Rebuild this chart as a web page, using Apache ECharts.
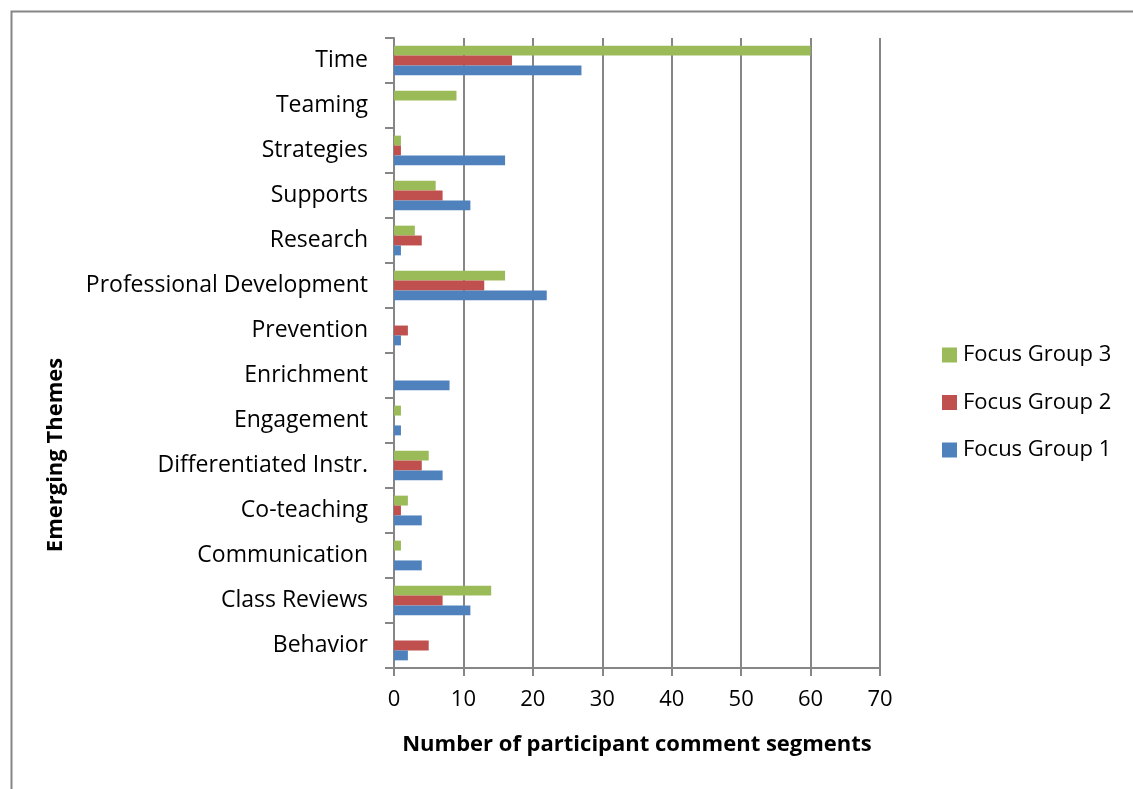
<!DOCTYPE html>
<html>
<head>
<meta charset="utf-8">
<script src="https://cdn.jsdelivr.net/npm/echarts@6/dist/echarts.min.js"></script>
<style>html,body{margin:0;padding:0;background:#fff;}#c{width:1133px;height:789px;}</style>
</head>
<body>
<div id="c"></div>
<script>
const categories = ["Behavior","Class Reviews","Communication","Co-teaching","Differentiated Instr.","Engagement","Enrichment","Prevention","Professional Development","Research","Supports","Strategies","Teaming","Time"];
const focusGroup3 = [0,14,1,2,5,1,0,0,16,3,6,1,9,60];
const focusGroup2 = [5,7,0,1,4,0,0,2,13,4,7,1,0,17];
const focusGroup1 = [2,11,4,4,7,1,8,1,22,1,11,16,0,27];
const seriesNames = ["Focus Group 3","Focus Group 2","Focus Group 1"];
const xTicks = [0,10,20,30,40,50,60,70];

const FONT = "'Open Sans', 'Noto Sans', sans-serif";
const chart = echarts.init(document.getElementById('c'), null, {renderer:'canvas'});
const colors = ['#9BBB59','#C0504D','#4F81BD'];
const data = [focusGroup3, focusGroup2, focusGroup1];
chart.setOption({
  animation:false,
  backgroundColor:'#fff',
  textStyle:{fontFamily:FONT},
  grid:{left:394, right:253, top:38, bottom:121, containLabel:false},
  legend:{
    orient:'vertical', left:937, top:339,
    itemWidth:15, itemHeight:15, itemGap:25.5,
    icon:'rect',
    textStyle:{fontSize:22, lineHeight:22, color:'#000', fontFamily:FONT, padding:[0,0,0,1]},
    data:seriesNames
  },
  xAxis:{
    type:'value', min:xTicks[0], max:xTicks[xTicks.length-1], interval:10,
    name:'Number of participant comment segments',
    nameLocation:'middle', nameGap:66,
    nameTextStyle:{fontSize:22, fontWeight:'bold', color:'#000', fontFamily:FONT},
    axisLine:{show:true, lineStyle:{color:'#868686', width:2}},
    axisTick:{show:true, length:8, lineStyle:{color:'#868686', width:2}},
    axisLabel:{fontSize:22, color:'#000', margin:21, fontFamily:FONT},
    splitLine:{show:true, lineStyle:{color:'#868686', width:2}}
  },
  yAxis:{
    type:'category', data:categories,
    axisLine:{show:true, lineStyle:{color:'#868686', width:2}},
    axisTick:{show:true, length:9, lineStyle:{color:'#868686', width:2}},
    axisLabel:{fontSize:23, color:'#000', margin:26, fontFamily:FONT},
    splitLine:{show:false}
  },
  series: seriesNames.map((n,i)=>({
    name:n, type:'bar', data:data[i],
    itemStyle:{color:colors[i]},
    barGap:'0%', barCategoryGap:'34%'
  })),
  graphic:[
    {type:'rect', left:9, top:9, shape:{width:1140, height:800}, style:{fill:'none', stroke:'#868686', lineWidth:2}, silent:true},
    {type:'text', x:56, y:455, rotation:Math.PI/2,
     style:{text:'Emerging Themes', font:"bold 22px 'Open Sans', sans-serif", fill:'#000', textAlign:'center', textVerticalAlign:'middle'}}
  ]
});
</script>
</body>
</html>
